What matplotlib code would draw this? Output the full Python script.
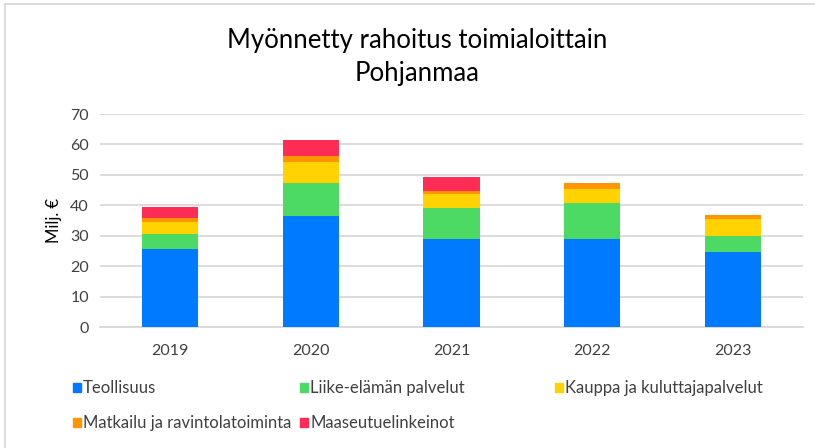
import numpy as np
import matplotlib
matplotlib.use("Agg")
import matplotlib.pyplot as plt
from matplotlib.lines import Line2D
from matplotlib.patches import Patch

plt.rcParams['font.family'] = ['Lato', 'DejaVu Sans']

years = ['2019', '2020', '2021', '2022', '2023']
series = ['Teollisuus', 'Liike-elämän palvelut', 'Kauppa ja kuluttajapalvelut',
          'Matkailu ja ravintolatoiminta', 'Maaseutuelinkeinot']
teollisuus = [25.6, 36.4, 28.9, 28.9, 24.7]
liike = [4.8, 10.9, 10.2, 11.7, 5.2]
kauppa = [4.1, 6.9, 4.6, 4.7, 5.6]
matkailu = [1.3, 2.0, 1.1, 1.9, 1.3]
maaseutu = [3.5, 5.2, 4.5, 0.2, 0.0]
colors = ['#007AFF', '#4CD964', '#FFD200', '#FF9500', '#FF2D55']

fig = plt.figure(figsize=(8.15, 4.48), dpi=100)
ax = fig.add_axes([100 / 815, 121 / 448, 703 / 815, 213 / 448])

x = np.arange(len(years))
bottom = np.zeros(len(years))
for vals, col, name in zip([teollisuus, liike, kauppa, matkailu, maaseutu], colors, series):
    ax.bar(x, vals, width=0.4, bottom=bottom, color=col, label=name, zorder=3)
    bottom += np.array(vals)

ax.set_xlim(-0.5, len(years) - 0.5)
ax.set_ylim(0, 70)
ax.set_yticks(range(0, 71, 10))
ax.set_xticks(x)
ax.set_xticklabels(years)
ax.grid(axis='y', color='#d9d9d9', linewidth=1.3, zorder=0)
for s in ['top', 'right', 'left']:
    ax.spines[s].set_visible(False)
ax.spines['bottom'].set_color('#d9d9d9')
ax.spines['bottom'].set_linewidth(1.3)
ax.tick_params(length=0, labelsize=11.5, colors='#404040', pad=8)
ax.tick_params(axis='x', pad=12)
ax.set_ylabel('Milj. €', fontsize=12, color='black', labelpad=6)

fig.text(0.512, 0.91, 'Myönnetty rahoitus toimialoittain', ha='center', va='center', fontsize=18.5)
fig.text(0.512, 0.835, 'Pohjanmaa', ha='center', va='center', fontsize=18.5)

# legend entries placed like the original layout
leg_pos = [(73, 388), (300, 388), (555, 388), (73, 423), (300, 423)]
for i, (px, py) in enumerate(leg_pos):
    h = Patch(color=colors[i])
    leg = fig.legend([h], [series[i]], loc='center left',
                     bbox_to_anchor=(px / 815, 1 - py / 448), frameon=False,
                     handlelength=0.45, handleheight=0.45, handletextpad=0.15,
                     borderaxespad=0, borderpad=0, fontsize=12)
    for t in leg.get_texts():
        t.set_color('#404040')

# chart frame
fig.add_artist(Line2D([5 / 815, 5 / 815], [0, 1 - 4 / 448], color='#d9d9d9', lw=1.3))
fig.add_artist(Line2D([5 / 815, 1], [1 - 4 / 448, 1 - 4 / 448], color='#d9d9d9', lw=1.3))

fig.savefig('out.png', dpi=100)
